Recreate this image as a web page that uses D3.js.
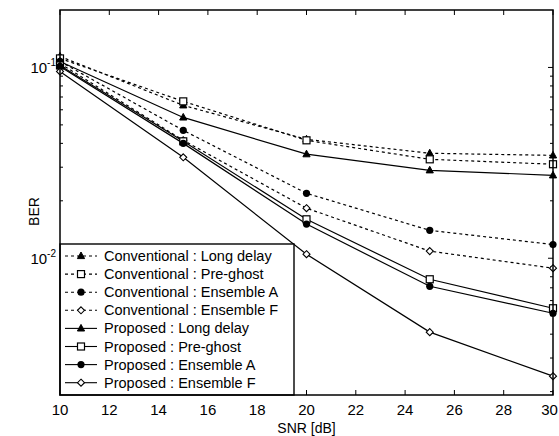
<!DOCTYPE html>
<html>
<head>
<meta charset="utf-8">
<script src="https://cdn.jsdelivr.net/npm/d3@7"></script>
<style>
  body { margin: 0; background: #fff; }
  svg { display: block; }
  text { font-family: "Liberation Sans", Arial, sans-serif; fill: #000; }
</style>
</head>
<body>
<div id="vis"></div>
<script>
const WIDTH = 559;
const HEIGHT = 436;
const MARGIN = { top: 10, right: 6, bottom: 41, left: 60 };

// datos
const snr = [10, 15, 20, 25, 30];
const convLongDelay = [0.1142, 0.0633, 0.0420, 0.0355, 0.0346];
const convPreGhost = [0.1115, 0.0664, 0.0415, 0.0330, 0.0311];
const convEnsembleA = [0.1075, 0.0468, 0.0219, 0.0140, 0.0118];
const convEnsembleF = [0.1049, 0.0415, 0.0183, 0.0109, 0.00887];
const propLongDelay = [0.1075, 0.0547, 0.0351, 0.0289, 0.0272];
const propPreGhost = [0.1024, 0.0410, 0.0160, 0.00776, 0.00547];
const propEnsembleA = [0.1012, 0.0400, 0.0151, 0.00713, 0.00515];
const propEnsembleF = [0.0953, 0.0338, 0.0105, 0.00410, 0.00241];

const xTicks = [10, 12, 14, 16, 18, 20, 22, 24, 26, 28, 30];
const yMajor = [0.1, 0.01];
const yLabels = ["-1", "-2"];

const series = [
  { name: "Conventional : Long delay", values: convLongDelay, dash: true, marker: "triangle" },
  { name: "Conventional : Pre-ghost", values: convPreGhost, dash: true, marker: "square" },
  { name: "Conventional : Ensemble A", values: convEnsembleA, dash: true, marker: "circle" },
  { name: "Conventional : Ensemble F", values: convEnsembleF, dash: true, marker: "diamond" },
  { name: "Proposed : Long delay", values: propLongDelay, dash: false, marker: "triangle" },
  { name: "Proposed : Pre-ghost", values: propPreGhost, dash: false, marker: "square" },
  { name: "Proposed : Ensemble A", values: propEnsembleA, dash: false, marker: "circle" },
  { name: "Proposed : Ensemble F", values: propEnsembleF, dash: false, marker: "diamond" }
];

const SVG = d3.select("#vis").append("svg")
  .attr("width", WIDTH).attr("height", HEIGHT);

const x0 = MARGIN.left, x1 = WIDTH - MARGIN.right;
const y0 = MARGIN.top, y1 = HEIGHT - MARGIN.bottom;

const escalaX = d3.scaleLinear().domain([10, 30]).range([x0, x1]);
const escalaY = d3.scaleLog().domain([0.00192, 0.2]).range([y1, y0]);

// ticks hacia adentro en los cuatro lados
const ejes = SVG.append("g").attr("stroke", "#000").attr("stroke-width", 1);
xTicks.forEach(t => {
  const x = escalaX(t);
  ejes.append("line").attr("x1", x).attr("x2", x).attr("y1", y1).attr("y2", y1 - 5);
  ejes.append("line").attr("x1", x).attr("x2", x).attr("y1", y0).attr("y2", y0 + 5);
});
escalaY.ticks().forEach(t => {
  const y = escalaY(t);
  if (y < y0 + 1 || y > y1 - 1) return;
  const largo = yMajor.some(m => Math.abs(m - t) < 1e-9) ? 5 : 3;
  ejes.append("line").attr("x1", x0).attr("x2", x0 + largo).attr("y1", y).attr("y2", y);
  ejes.append("line").attr("x1", x1).attr("x2", x1 - largo).attr("y1", y).attr("y2", y);
});

// etiquetas (la ultima se corre un poco para que no se corte)
SVG.append("g").selectAll("text")
  .data(xTicks)
  .join("text")
  .attr("x", d => Math.min(escalaX(d), WIDTH - 9.5))
  .attr("y", y1 + 20)
  .attr("text-anchor", "middle")
  .style("font-size", "15px")
  .text(d => d);

yMajor.forEach((m, i) => {
  const t = SVG.append("text")
    .attr("x", x0 - 4)
    .attr("y", escalaY(m) + 6)
    .attr("text-anchor", "end")
    .style("font-size", "15px");
  t.append("tspan").text("10");
  t.append("tspan").attr("dy", -7).style("font-size", "10px").text(yLabels[i]);
});

SVG.append("text")
  .attr("x", (x0 + x1) / 2)
  .attr("y", HEIGHT - 3)
  .attr("text-anchor", "middle")
  .style("font-size", "14px")
  .text("SNR [dB]");

SVG.append("text")
  .attr("transform", `translate(39, ${(y0 + y1) / 2 + 9}) rotate(-90)`)
  .attr("text-anchor", "middle")
  .style("font-size", "14px")
  .text("BER");

function dibujarMarcador(g, tipo, x, y) {
  if (tipo === "triangle") {
    g.append("path")
      .attr("d", `M${x},${y - 4}L${x + 3.6},${y + 2.6}L${x - 3.6},${y + 2.6}Z`)
      .attr("fill", "#000").attr("stroke", "#000");
  } else if (tipo === "square") {
    g.append("rect")
      .attr("x", x - 3.5).attr("y", y - 3.5).attr("width", 7).attr("height", 7)
      .attr("fill", "#fff").attr("stroke", "#000").attr("stroke-width", 1.2);
  } else if (tipo === "circle") {
    g.append("circle").attr("cx", x).attr("cy", y).attr("r", 3.6)
      .attr("fill", "#000");
  } else {
    g.append("path")
      .attr("d", `M${x},${y - 3.5}L${x + 3.5},${y}L${x},${y + 3.5}L${x - 3.5},${y}Z`)
      .attr("fill", "#fff").attr("stroke", "#000").attr("stroke-width", 1.1);
  }
}

const linea = d3.line()
  .x((d, i) => escalaX(snr[i]))
  .y(d => escalaY(d));

const curvas = SVG.append("g");
series.forEach(s => {
  curvas.append("path")
    .attr("d", linea(s.values))
    .attr("fill", "none")
    .attr("stroke", "#000")
    .attr("stroke-width", 1.2)
    .attr("stroke-dasharray", s.dash ? "3,3" : null);
});
series.forEach(s => {
  s.values.forEach((v, i) => dibujarMarcador(curvas, s.marker, escalaX(snr[i]), escalaY(v)));
});

// leyenda
const LEG = { x: x0, y: 244, w: 234, paso: 18.1 };
const leyenda = SVG.append("g");
leyenda.append("rect")
  .attr("x", LEG.x).attr("y", LEG.y)
  .attr("width", LEG.w).attr("height", y1 - LEG.y)
  .attr("fill", "#fff").attr("stroke", "#000").attr("stroke-width", 1.4);

series.forEach((s, i) => {
  const cy = LEG.y + 12 + i * LEG.paso;
  leyenda.append("line")
    .attr("x1", LEG.x + 5).attr("x2", LEG.x + 37)
    .attr("y1", cy).attr("y2", cy)
    .attr("stroke", "#000").attr("stroke-width", 1.1)
    .attr("stroke-dasharray", s.dash ? "3,3" : null);
  dibujarMarcador(leyenda, s.marker, LEG.x + 21, cy);
  leyenda.append("text")
    .attr("x", LEG.x + 44)
    .attr("y", cy + 5)
    .style("font-size", "14.5px")
    .text(s.name);
});

// marco
SVG.append("rect")
  .attr("x", x0).attr("y", y0)
  .attr("width", x1 - x0).attr("height", y1 - y0)
  .attr("fill", "none").attr("stroke", "#000").attr("stroke-width", 1.5);
</script>
</body>
</html>
